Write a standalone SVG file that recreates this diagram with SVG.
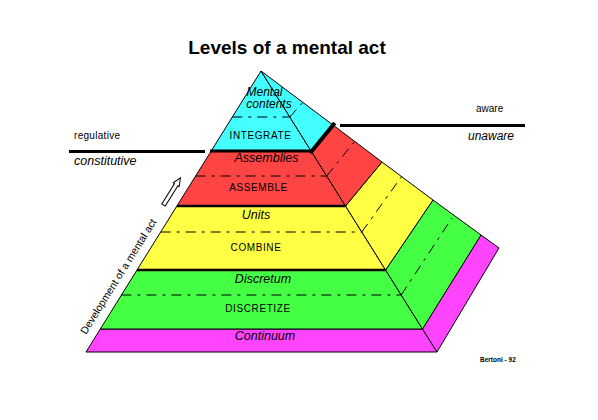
<svg xmlns="http://www.w3.org/2000/svg" width="598" height="420" viewBox="0 0 598 420">
<style>
.f{stroke:#000;stroke-width:1;stroke-linejoin:round}
.cy{fill:#44ffff}.rd{fill:#ff4444}.ye{fill:#ffff44}.gr{fill:#44ff44}.mg{fill:#ff44ff}
.dd{stroke:#000;stroke-width:1;fill:none;stroke-dasharray:10,6,3,6}
.thick{stroke:#000;fill:none}
.it{font-family:"Liberation Sans",Arial,sans-serif;font-style:italic;font-size:12.5px;text-anchor:middle;fill:#000}
.its{font-family:"Liberation Sans",Arial,sans-serif;font-style:italic;font-size:12.5px;text-anchor:start;fill:#000}
.cap{font-family:"Liberation Sans",Arial,sans-serif;font-size:10px;letter-spacing:0.6px;text-anchor:middle;fill:#000}
.sm{font-family:"Liberation Sans",Arial,sans-serif;font-size:10px;fill:#000}
</style>
<rect width="598" height="420" fill="#fff"/>
<text id="title" x="287" y="54" font-family="Liberation Sans,Arial,sans-serif" font-weight="bold" font-size="19" text-anchor="middle">Levels of a mental act</text>

<g id="level-continuum">
<polygon class="f mg" points="100.3,329 422.5,329 437,352 86,352"/>
<polygon class="f mg" points="422.5,329 437,352 499,248 481,235"/>
<text class="it" x="265" y="340">Continuum</text>
</g>
<g id="level-discretize">
<polygon class="f gr" points="137,270 385.6,270 422.5,329 100.3,329"/>
<polygon class="f gr" points="385.6,270 422.5,329 481,235 433,200"/>
<line class="dd" x1="121.4" y1="295" x2="401.2" y2="295"/>
<line class="dd" x1="401.2" y1="295" x2="452" y2="218"/>
<text class="it" x="263" y="283">Discretum</text>
<text class="cap" x="258" y="312">DISCRETIZE</text>
</g>
<g id="level-combine">
<polygon class="f ye" points="176.9,206 345.5,206 385.6,270 137,270"/>
<polygon class="f ye" points="345.5,206 385.6,270 433,200 382,162"/>
<line class="dd" x1="160.7" y1="232" x2="361.8" y2="232"/>
<line class="dd" x1="361.8" y1="232" x2="402" y2="176"/>
<text class="it" x="256" y="219">Units</text>
<text class="cap" x="256" y="251">COMBINE</text>
</g>
<g id="level-assemble">
<polygon class="f rd" points="211.2,151 311.1,151 345.5,206 176.9,206"/>
<polygon class="f rd" points="311.1,151 345.5,206 382,162 333,125"/>
<line class="dd" x1="195.6" y1="176" x2="326.7" y2="176"/>
<line class="dd" x1="326.7" y1="176" x2="355" y2="141"/>
<text class="it" x="266.5" y="162">Assemblies</text>
<text class="cap" x="258.5" y="191">ASSEMBLE</text>
</g>
<g id="level-integrate">
<polygon class="f cy" points="261,71 211.2,151 311.1,151"/>
<polygon class="f cy" points="261,71 311.1,151 333,125"/>
<line class="dd" x1="232.3" y1="117" x2="289.8" y2="117"/>
<line class="dd" x1="289.8" y1="117" x2="303" y2="102"/>
<text class="it" x="264.5" y="95.5" style="font-size:12px">Mental</text>
<text class="it" x="269" y="108" style="font-size:12px">contents</text>
<text class="cap" x="260.5" y="139">INTEGRATE</text>
</g>

<g id="connectors">
<line class="thick" stroke-width="3" x1="210" y1="151" x2="312" y2="151"/>
<line class="thick" stroke-width="4" x1="311.5" y1="151.5" x2="333.5" y2="124.5" stroke-linecap="square"/>
<line class="thick" stroke-width="2.5" x1="177" y1="206" x2="345.5" y2="206"/>
<line class="thick" stroke-width="2.5" x1="137" y1="270" x2="385.6" y2="270"/>
<line class="thick" stroke-width="3" x1="69" y1="151.5" x2="205" y2="151.5"/>
<line class="thick" stroke-width="3" x1="340" y1="125.5" x2="525" y2="125.5"/>
<polygon points="0,-2 24,-2 24,-3.5 32,0 24,3.5 24,2 0,2" fill="#fff" stroke="#000" stroke-width="1" transform="translate(163.5,205) rotate(-58)"/>
</g>

<g id="label-regulative">
<text class="sm" x="74" y="139" letter-spacing="0.3">regulative</text>
<text class="its" x="74" y="165">constitutive</text>
</g>
<g id="label-aware">
<text class="sm" x="476" y="112">aware</text>
<text class="its" x="468" y="140" style="font-size:12px">unaware</text>
</g>
<g id="label-development">
<text font-family="Liberation Sans,Arial,sans-serif" font-size="10.5" transform="translate(86,335) rotate(-58)">Development of a mental act</text>
</g>
<g id="label-credit">
<text x="480" y="362" font-family="Liberation Sans,Arial,sans-serif" font-size="6.5" font-weight="bold">Bertoni - 92</text>
</g>
</svg>
